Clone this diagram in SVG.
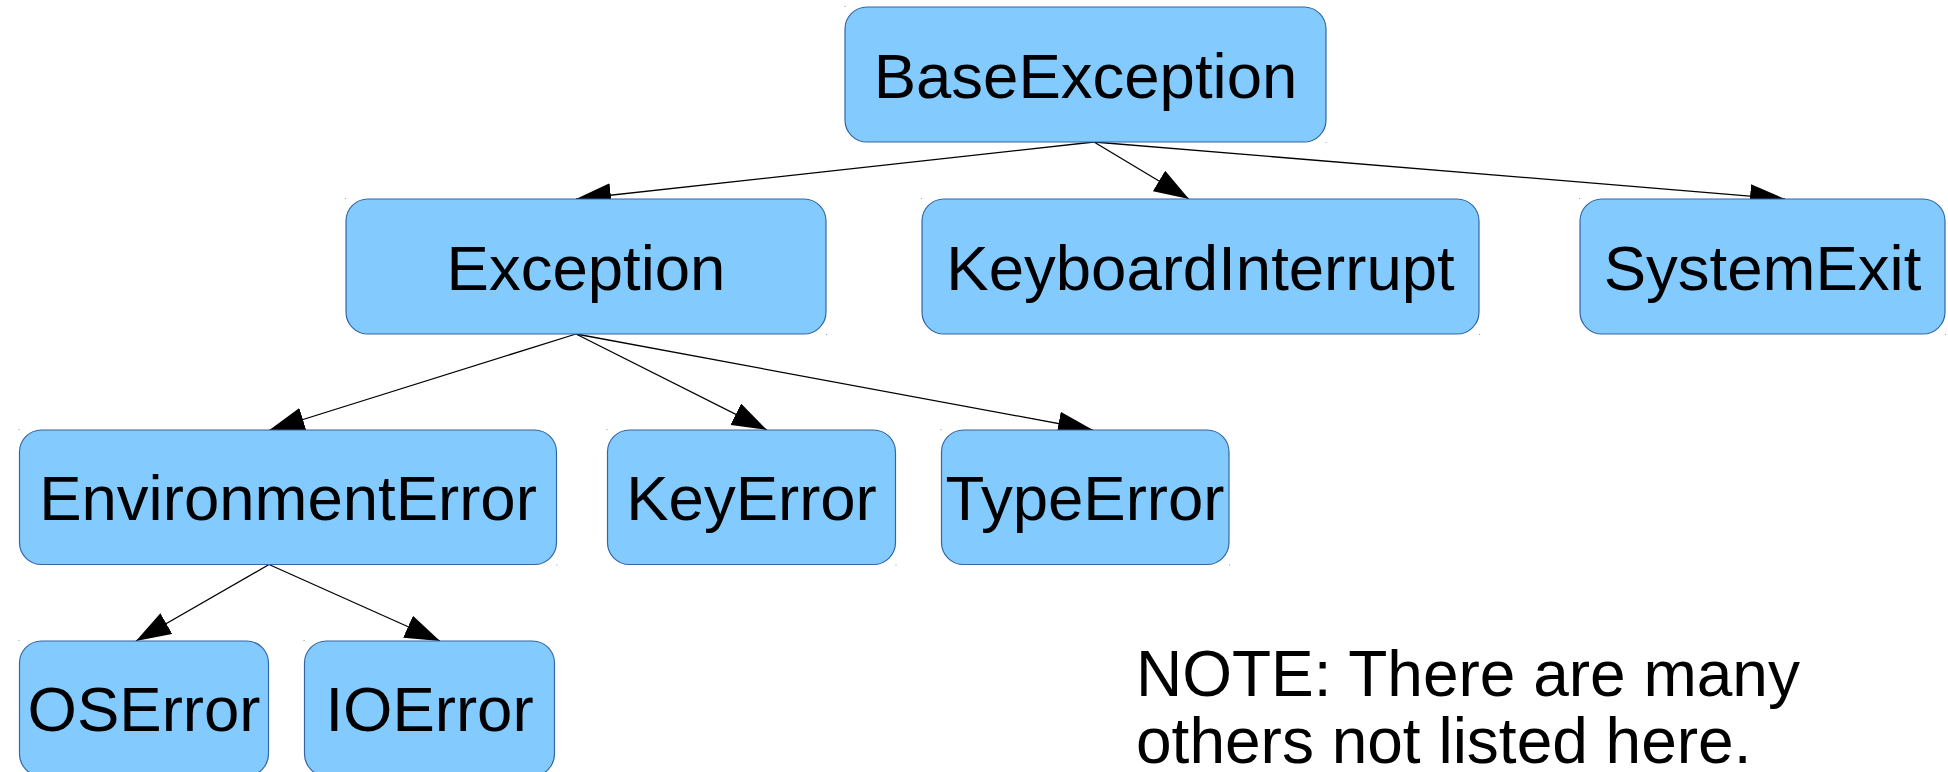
<svg xmlns="http://www.w3.org/2000/svg" width="1948" height="772" viewBox="0 0 1948 772">
  <style>
    .box { fill: #83caff; stroke: #3465a4; stroke-width: 1.2; }
    .lbl { font-family: "Liberation Sans", Arial, sans-serif; font-size: 63.5px; fill: #000; text-anchor: middle; }
    .note { font-family: "Liberation Sans", Arial, sans-serif; font-size: 64px; fill: #000; }
    .edge { stroke: #000; stroke-width: 1.3; fill: none; marker-end: url(#arrow); }
    .dot { fill: #7f9fcc; }
  </style>
  <defs>
    <marker id="arrow" markerUnits="userSpaceOnUse" markerWidth="36" markerHeight="24" refX="35" refY="12" orient="auto">
      <path d="M0,0 L35,12 L0,24 z" fill="#000"/>
    </marker>
  </defs>
  <rect width="1948" height="772" fill="#fff"/>

  <!-- inheritance edges -->
  <g id="connectors">
    <line class="edge" x1="1094" y1="142" x2="576" y2="199"/>
    <line class="edge" x1="1094" y1="142" x2="1189" y2="199"/>
    <line class="edge" x1="1094" y1="142" x2="1785" y2="199"/>
    <line class="edge" x1="576" y1="334" x2="269.5" y2="430"/>
    <line class="edge" x1="576" y1="334" x2="767" y2="430"/>
    <line class="edge" x1="576" y1="334" x2="1093" y2="430"/>
    <line class="edge" x1="269" y1="564.5" x2="136" y2="641"/>
    <line class="edge" x1="269" y1="564.5" x2="440" y2="641"/>
  </g>

  <g id="BaseException">
    <rect class="box" x="845" y="7" width="481" height="135" rx="22"/>
    <rect class="dot" x="844.5" y="6" width="1" height="1"/>
    <rect class="dot" x="1325.5" y="142" width="1" height="1"/>
    <text class="lbl" x="1085.5" y="98">BaseException</text>
  </g>
  <g id="Exception">
    <rect class="box" x="346" y="199" width="480" height="135" rx="22"/>
    <rect class="dot" x="345" y="198" width="1" height="1"/>
    <rect class="dot" x="826" y="334" width="1" height="1"/>
    <text class="lbl" x="586" y="290">Exception</text>
  </g>
  <g id="KeyboardInterrupt">
    <rect class="box" x="922" y="199" width="557" height="135" rx="22"/>
    <rect class="dot" x="921" y="198" width="1" height="1"/>
    <rect class="dot" x="1479" y="334" width="1" height="1"/>
    <text class="lbl" x="1200.5" y="290">KeyboardInterrupt</text>
  </g>
  <g id="SystemExit">
    <rect class="box" x="1580" y="199" width="365" height="135" rx="22"/>
    <rect class="dot" x="1579" y="198" width="1" height="1"/>
    <rect class="dot" x="1945" y="334" width="1" height="1"/>
    <text class="lbl" x="1762.5" y="290">SystemExit</text>
  </g>
  <g id="EnvironmentError">
    <rect class="box" x="19.5" y="430" width="537" height="134.5" rx="22"/>
    <rect class="dot" x="18.5" y="429" width="1" height="1"/>
    <rect class="dot" x="556.5" y="564.5" width="1" height="1"/>
    <text class="lbl" x="288" y="520">EnvironmentError</text>
  </g>
  <g id="KeyError">
    <rect class="box" x="607.5" y="430" width="288" height="134.5" rx="22"/>
    <rect class="dot" x="606.5" y="429" width="1" height="1"/>
    <rect class="dot" x="895.5" y="564.5" width="1" height="1"/>
    <text class="lbl" x="751.5" y="520">KeyError</text>
  </g>
  <g id="TypeError">
    <rect class="box" x="941.5" y="430" width="287.5" height="134.5" rx="22"/>
    <rect class="dot" x="940.5" y="429" width="1" height="1"/>
    <rect class="dot" x="1229" y="564.5" width="1" height="1"/>
    <text class="lbl" x="1085" y="520">TypeError</text>
  </g>
  <g id="OSError">
    <rect class="box" x="19.5" y="641" width="249" height="135" rx="22"/>
    <rect class="dot" x="18.5" y="640" width="1" height="1"/>
    <text class="lbl" x="144" y="731">OSError</text>
  </g>
  <g id="IOError">
    <rect class="box" x="304.5" y="641" width="250" height="135" rx="22"/>
    <rect class="dot" x="303.5" y="640" width="1" height="1"/>
    <text class="lbl" x="429.5" y="731">IOError</text>
  </g>

  <g id="note">
    <text class="note" x="1136" y="696">NOTE: There are many</text>
    <text class="note" x="1136" y="763">others not listed here.</text>
  </g>
</svg>
